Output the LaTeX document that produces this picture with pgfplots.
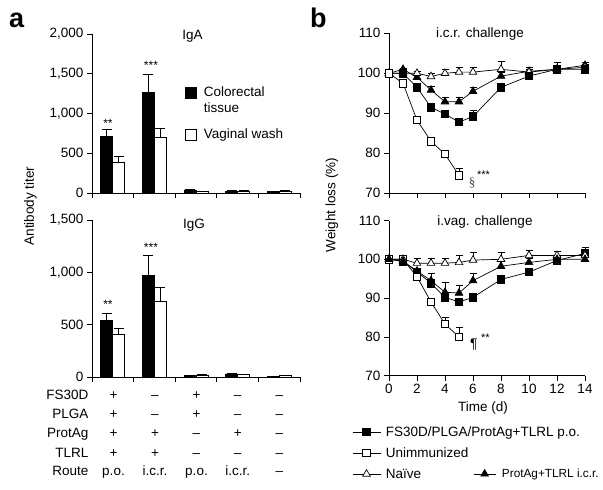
\documentclass[border=0pt]{standalone}
\usepackage{pgfplots}
\pgfplotsset{compat=1.18}
\usepackage{fontspec}
\setmainfont{Liberation Sans}
\newfontfamily\seriffont{Liberation Serif}
\newcommand{\fs}{\fontsize{13.5}{16}\selectfont}
\begin{document}
\begin{tikzpicture}
\useasboundingbox (0pt,0pt) rectangle (603pt,490pt);
\pgfplotsset{
  myaxis/.style={
    scale only axis, anchor=south west,
    axis x line*=bottom, axis y line*=left,
    axis line style={-, line width=0.8pt},
    tick align=outside, major tick length=5pt,
    every tick/.style={black, line width=0.8pt},
    /pgf/number format/assume math mode=true,
    /pgf/number format/1000 sep={,},
    scaled y ticks=false,
    tick label style={font=\fs},
    clip=false,
  },
  barleg/.style={legend image code/.code={\draw[##1] (0pt,-5.5pt) rectangle (11pt,5.5pt);}},
  blackbar/.style={ybar, bar width=12pt, bar shift=0pt, fill=black, draw=black, line width=0.7pt, barleg,
     error bars/y dir=plus, error bars/y explicit,
     error bars/error bar style={black, line width=0.8pt},
     error bars/error mark options={rotate=90, black, line width=0.8pt, mark size=5pt}},
  whitebar/.style={ybar, bar width=12pt, bar shift=0pt, fill=white, draw=black, line width=0.7pt, barleg,
     error bars/y dir=plus, error bars/y explicit,
     error bars/error bar style={black, line width=0.8pt},
     error bars/error mark options={rotate=90, black, line width=0.8pt, mark size=5pt}},
  ser/.style={black, line width=0.7pt, mark options={solid, line width=0.7pt},
     error bars/y dir=plus, error bars/y explicit,
     error bars/error bar style={black, line width=0.7pt},
     error bars/error mark options={rotate=90, black, line width=0.7pt, mark size=3.5pt}},
  sqf/.style={ser, mark=square*, mark size=3.7pt, mark options={fill=black}},
  sqo/.style={ser, mark=square*, mark size=3.7pt, mark options={fill=white}},
  trf/.style={ser, mark=triangle*, mark size=4.4pt, mark options={fill=black}},
  tro/.style={ser, mark=triangle*, mark size=4.4pt, mark options={fill=white}},
}
% ---------- panel a, IgA ----------
\begin{axis}[myaxis, at={(92pt,297pt)}, width=208pt, height=159pt,
  xmin=0, xmax=5, ymin=0, ymax=2000, ytick={0,500,1000,1500,2000},
  xtick={0,1,2,3,4,5}, xticklabels={},
  legend style={at={(0.447,0.679)}, anchor=north west, draw=none, fill=none, inner sep=0pt,
    font=\fs, row sep=27.5pt, column sep=6pt,
    nodes={inner sep=1pt, text height=10pt, text depth=3pt}},
  legend cell align=left]
\addplot[blackbar] table[x=x, y=y, y error=e] {
x y e
0.356 710 85
1.356 1265 225
2.356 38 4
3.356 25 3
4.356 20 3
};
\addlegendentry{\raisebox{0pt}[\height][0pt]{\begin{tabular}[t]{@{}l@{}}Colorectal\\tissue\end{tabular}}}
\addplot[whitebar] table[x=x, y=y, y error=e] {
x y e
0.644 380 75
1.644 700 115
2.644 18 3
3.644 25 3
4.644 25 3
};
\addlegendentry{Vaginal wash}
\end{axis}
% ---------- panel a, IgG ----------
\begin{axis}[myaxis, at={(92pt,112.7pt)}, width=208pt, height=157.3pt,
  xmin=0, xmax=5, ymin=0, ymax=1500, ytick={0,500,1000,1500},
  xtick={0,1,2,3,4,5}, xticklabels={}]
\addplot[blackbar] table[x=x, y=y, y error=e] {
x y e
0.356 540 70
1.356 975 190
2.356 15 3
3.356 32 4
4.356 10 3
};
\addplot[whitebar] table[x=x, y=y, y error=e] {
x y e
0.644 405 60
1.644 720 140
2.644 20 3
3.644 25 3
4.644 15 3
};
\end{axis}
% ---------- panel b, i.c.r. ----------
\begin{axis}[myaxis, at={(389pt,296.7pt)}, width=196pt, height=160pt,
  xmin=0, xmax=14, ymin=70, ymax=110, ytick={70,80,90,100,110},
  xtick={0,2,...,14}, xticklabels={},
  legend style={at={(0.429,-1.754)}, anchor=west, draw=none, fill=none, inner sep=0pt,
    font=\fontsize{11.8}{14}\selectfont, column sep=6pt, nodes={inner sep=0pt, text height=10pt, text depth=2.5pt}},
  legend cell align=left,
  legend image code/.code={\draw[mark repeat=2,mark phase=2,#1] plot coordinates {(0pt,0pt) (11pt,0pt) (22pt,0pt)};}]
\addplot[trf] table[x=d, y=w, y error=e] {
d w e
0 100 0.3
1 101 0.3
2 99 0.5
3 95.8 1
4 92.9 1.2
5 92.9 1.2
6 95.5 1
8 99.3 1
10 100.5 1
12 101 1
14 102 0.8
};
\addlegendentry{ProtAg+TLRL i.c.r.}
\addplot[tro] table[x=d, y=w, y error=e] {
d w e
0 100 0.3
1 100 0.3
2 100 0.5
3 99.2 0.8
4 100 1
5 100.3 1.2
6 100.3 1.2
8 101 2
10 100.3 0.8
12 101 1
14 101.5 0.8
};
\addplot[sqf] table[x=d, y=w, y error=e] {
d w e
0 100 0.5
1 100 0.5
2 96.5 0.8
3 91.5 0.8
4 89.8 0.8
5 87.8 1
6 89.2 1.5
8 96.5 0.5
10 99.3 0.5
12 101 1.8
14 101 0.5
};
\addplot[sqo] table[x=d, y=w, y error=e] {
d w e
0 100 0.3
1 97.5 0.5
2 88.3 0.5
3 83 0.5
4 79.8 0.5
5 74.5 1.8
};
\end{axis}
% ---------- panel b, i.vag. ----------
\begin{axis}[myaxis, at={(389pt,114.3pt)}, width=196pt, height=155.2pt,
  xmin=0, xmax=14, ymin=70, ymax=110, ytick={70,80,90,100,110},
  xtick={0,2,...,14},
  legend style={at={(-0.189,-0.498)}, anchor=west, draw=none, fill=none, inner sep=0pt,
    font=\fs, row sep=7pt, column sep=5pt, nodes={inner sep=0pt, text height=11.5pt, text depth=2.5pt}},
  legend cell align=left,
  legend image code/.code={\draw[mark repeat=2,mark phase=2,#1] plot coordinates {(0pt,0pt) (14pt,0pt) (28pt,0pt)};}]
\addplot[sqf] table[x=d, y=w, y error=e] {
d w e
0 100 0.3
1 99.5 0.3
2 96.8 0.5
3 93.8 0.8
4 90.2 0.8
5 89 1
6 90.2 0.8
8 94.8 0.8
10 96.7 0.8
12 99.7 0.8
14 101.5 1.5
};
\addlegendentry{FS30D/PLGA/ProtAg+TLRL p.o.}
\addplot[sqo] table[x=d, y=w, y error=e] {
d w e
0 100 0.3
1 100 0.3
2 95.5 0.5
3 89 0.8
4 83.3 1.8
5 80 2.5
};
\addlegendentry{Unimmunized}
\addplot[tro] table[x=d, y=w, y error=e] {
d w e
0 100 0.3
1 100 0.3
2 99 1.2
3 99 1.2
4 99 1.2
5 99.2 1.8
6 99.8 2
8 100 1.8
10 101 1.2
12 101 1
14 101 1
};
\addlegendentry{Naïve}
\addplot[trf] table[x=d, y=w, y error=e] {
d w e
0 100 0.3
1 99.5 0.3
2 97 0.5
3 94.5 2
4 91.5 2.5
5 91.3 1.9
6 94.5 2
8 98.2 1.5
10 99.2 1
12 100 0.8
14 100 0.8
};
\end{axis}
% ---------- texts ----------
\node[anchor=base west, font=\fontsize{27}{30}\selectfont\bfseries, inner sep=0pt] at (9pt,462pt) {a};
\node[anchor=base west, font=\fontsize{27}{30}\selectfont\bfseries, inner sep=0pt] at (310pt,462pt) {b};
\node[anchor=base, font=\fs, inner sep=0pt] at (192.5pt,450.7pt) {IgA};
\node[anchor=base, font=\fs, inner sep=0pt] at (194pt,261.7pt) {IgG};
\node[anchor=base, font=\fontsize{12}{14}\selectfont, inner sep=0pt] at (108pt,362.3pt) {**};
\node[anchor=base, font=\fontsize{12}{14}\selectfont, inner sep=0pt] at (151pt,420.7pt) {***};
\node[anchor=base, font=\fontsize{12}{14}\selectfont, inner sep=0pt] at (108pt,181.3pt) {**};
\node[anchor=base, font=\fontsize{12}{14}\selectfont, inner sep=0pt] at (151pt,238.7pt) {***};
\node[rotate=90, font=\fs, inner sep=0pt] at (30.5pt,284pt) {Antibody titer};
\node[rotate=90, font=\fs, inner sep=0pt] at (332pt,285pt) {Weight loss (\%)};
\node[anchor=base, font=\fs, inner sep=0pt] at (480pt,452.7pt) {i.c.r. challenge};
\node[anchor=base, font=\fs, inner sep=0pt] at (485pt,264pt) {i.vag. challenge};
\node[anchor=base, font=\fs, inner sep=0pt] at (483pt,78.6pt) {Time (d)};
\node[font=\fontsize{13}{14}\selectfont\seriffont, inner sep=0pt, text=black!70] at (472pt,307pt) {§};
\node[anchor=base, font=\fontsize{11}{13}\selectfont, inner sep=0pt] at (483.5pt,311.2pt) {***};
\node[font=\fontsize{14}{15}\selectfont, inner sep=0pt] at (474pt,145.5pt) {¶};
\node[anchor=base, font=\fontsize{11}{13}\selectfont, inner sep=0pt] at (485.3pt,148.7pt) {**};
% table below panel a
\foreach \lab/\yy in {FS30D/90.6, PLGA/71.7, ProtAg/52.3, TLRL/32.7, Route/14}
  \node[anchor=base east, font=\fs, inner sep=0pt] at (88.5pt,\yy pt) {\lab};
\foreach \xx/\a/\b/\c/\d/\e in {113.5/+/+/+/+/p.o., 155/–/–/+/+/i.c.r., 196.5/+/+/–/–/p.o., 237.7/–/–/+/–/i.c.r., 279.3/–/–/–/–/–}{
  \node[anchor=base, font=\fs, inner sep=0pt] at (\xx pt,90.6pt) {\a};
  \node[anchor=base, font=\fs, inner sep=0pt] at (\xx pt,71.7pt) {\b};
  \node[anchor=base, font=\fs, inner sep=0pt] at (\xx pt,52.3pt) {\c};
  \node[anchor=base, font=\fs, inner sep=0pt] at (\xx pt,32.7pt) {\d};
  \node[anchor=base, font=\fs, inner sep=0pt] at (\xx pt,14pt) {\e};
}
\end{tikzpicture}
\end{document}
